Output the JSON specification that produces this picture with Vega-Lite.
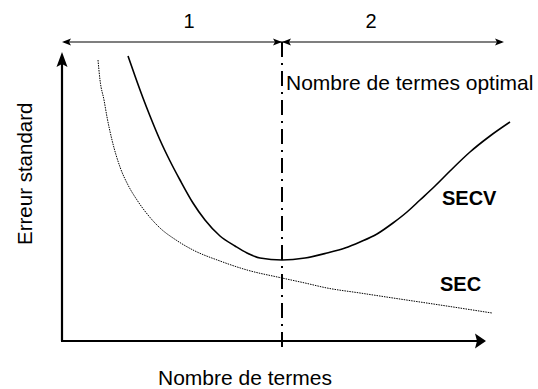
{
  "$schema": "https://vega.github.io/schema/vega-lite/v6.json",
  "width": 538,
  "height": 389,
  "autosize": {"type": "fit", "contains": "padding"},
  "padding": 0,
  "background": "white",
  "view": {"stroke": null},
  "config": {"font": "Liberation Sans"},
  "datasets": {
    "curves": [
      {"serie": "SECV", "termes": 128, "erreur": 333},
      {"serie": "SECV", "termes": 135, "erreur": 313},
      {"serie": "SECV", "termes": 143, "erreur": 291},
      {"serie": "SECV", "termes": 150, "erreur": 273},
      {"serie": "SECV", "termes": 160, "erreur": 249},
      {"serie": "SECV", "termes": 170, "erreur": 228},
      {"serie": "SECV", "termes": 180, "erreur": 209},
      {"serie": "SECV", "termes": 193, "erreur": 186},
      {"serie": "SECV", "termes": 205, "erreur": 169},
      {"serie": "SECV", "termes": 220, "erreur": 153},
      {"serie": "SECV", "termes": 235, "erreur": 143},
      {"serie": "SECV", "termes": 247, "erreur": 136},
      {"serie": "SECV", "termes": 260, "erreur": 131},
      {"serie": "SECV", "termes": 282, "erreur": 129},
      {"serie": "SECV", "termes": 305, "erreur": 131},
      {"serie": "SECV", "termes": 327, "erreur": 136},
      {"serie": "SECV", "termes": 345, "erreur": 141},
      {"serie": "SECV", "termes": 360, "erreur": 147},
      {"serie": "SECV", "termes": 377, "erreur": 155},
      {"serie": "SECV", "termes": 393, "erreur": 166},
      {"serie": "SECV", "termes": 407, "erreur": 177},
      {"serie": "SECV", "termes": 420, "erreur": 189},
      {"serie": "SECV", "termes": 435, "erreur": 203},
      {"serie": "SECV", "termes": 450, "erreur": 218},
      {"serie": "SECV", "termes": 470, "erreur": 237},
      {"serie": "SECV", "termes": 490, "erreur": 253},
      {"serie": "SECV", "termes": 510, "erreur": 267},
      {"serie": "SEC", "termes": 98, "erreur": 329},
      {"serie": "SEC", "termes": 100, "erreur": 309},
      {"serie": "SEC", "termes": 104, "erreur": 289},
      {"serie": "SEC", "termes": 107, "erreur": 272},
      {"serie": "SEC", "termes": 112, "erreur": 249},
      {"serie": "SEC", "termes": 120, "erreur": 222},
      {"serie": "SEC", "termes": 128, "erreur": 204},
      {"serie": "SEC", "termes": 137, "erreur": 189},
      {"serie": "SEC", "termes": 148, "erreur": 174},
      {"serie": "SEC", "termes": 160, "erreur": 161},
      {"serie": "SEC", "termes": 176, "erreur": 149},
      {"serie": "SEC", "termes": 193, "erreur": 139},
      {"serie": "SEC", "termes": 220, "erreur": 128},
      {"serie": "SEC", "termes": 247, "erreur": 119},
      {"serie": "SEC", "termes": 282, "erreur": 111},
      {"serie": "SEC", "termes": 305, "erreur": 106},
      {"serie": "SEC", "termes": 327, "erreur": 101},
      {"serie": "SEC", "termes": 360, "erreur": 96},
      {"serie": "SEC", "termes": 393, "erreur": 91},
      {"serie": "SEC", "termes": 440, "erreur": 84},
      {"serie": "SEC", "termes": 492, "erreur": 76}
    ],
    "axes": [
      {"x": 62, "y": 48, "x2": 62, "y2": 330},
      {"x": 61, "y": 48, "x2": 479, "y2": 48}
    ],
    "span": [
      {"x": 64, "y": 347, "x2": 502, "y2": 347}
    ],
    "optimum": [
      {"x": 282, "y": 347, "x2": 282, "y2": 41}
    ],
    "heads": [
      {"x": 62, "y": 337, "dir": "up"},
      {"x": 486, "y": 48, "dir": "right"},
      {"x": 62, "y": 347, "dir": "left-small"},
      {"x": 282, "y": 347, "dir": "right-small"},
      {"x": 282, "y": 347, "dir": "left-small"},
      {"x": 504, "y": 347, "dir": "right-small"}
    ],
    "zones": [
      {"x": 189, "y": 361, "label": "1"},
      {"x": 371, "y": 361, "label": "2"}
    ],
    "notes": [
      {"x": 286, "y": 299, "label": "Nombre de termes optimal"},
      {"x": 158, "y": 4, "label": "Nombre de termes"}
    ],
    "series": [
      {"x": 442, "y": 184, "label": "SECV"},
      {"x": 440, "y": 98, "label": "SEC"}
    ]
  },
  "encoding": {},
  "layer": [
    {
      "data": {"name": "curves"},
      "transform": [{"filter": "datum.serie === 'SEC'"}],
      "mark": {"type": "line", "interpolate": "monotone", "color": "black", "strokeWidth": 1, "strokeDash": [1.5, 1]},
      "encoding": {
        "x": {"field": "termes", "type": "quantitative", "scale": {"domain": [0, 538], "nice": false, "zero": false}, "axis": null},
        "y": {"field": "erreur", "type": "quantitative", "scale": {"domain": [0, 389], "nice": false, "zero": false}, "axis": null}
      }
    },
    {
      "data": {"name": "curves"},
      "transform": [{"filter": "datum.serie === 'SECV'"}],
      "mark": {"type": "line", "interpolate": "monotone", "color": "black", "strokeWidth": 1.6},
      "encoding": {
        "x": {"field": "termes", "type": "quantitative"},
        "y": {"field": "erreur", "type": "quantitative"}
      }
    },
    {
      "data": {"name": "axes"},
      "mark": {"type": "rule", "color": "black", "strokeWidth": 2.2},
      "encoding": {
        "x": {"field": "x", "type": "quantitative"},
        "y": {"field": "y", "type": "quantitative"},
        "x2": {"field": "x2"},
        "y2": {"field": "y2"}
      }
    },
    {
      "data": {"name": "span"},
      "mark": {"type": "rule", "color": "black", "strokeWidth": 1.2},
      "encoding": {
        "x": {"field": "x", "type": "quantitative"},
        "y": {"field": "y", "type": "quantitative"},
        "x2": {"field": "x2"},
        "y2": {"field": "y2"}
      }
    },
    {
      "data": {"name": "optimum"},
      "mark": {"type": "rule", "color": "black", "strokeWidth": 2, "strokeDash": [15, 6, 2, 6]},
      "encoding": {
        "x": {"field": "x", "type": "quantitative"},
        "y": {"field": "y", "type": "quantitative"},
        "x2": {"field": "x2"},
        "y2": {"field": "y2"}
      }
    },
    {
      "data": {"name": "heads"},
      "mark": {"type": "point", "filled": true, "size": 4, "color": "black", "opacity": 1, "strokeWidth": 0},
      "encoding": {
        "x": {"field": "x", "type": "quantitative"},
        "y": {"field": "y", "type": "quantitative"},
        "shape": {
          "field": "dir",
          "type": "nominal",
          "legend": null,
          "scale": {
            "domain": ["up", "right", "left-small", "right-small"],
            "range": [
              "M0,0 L-5.5,15 L0,12 L5.5,15 Z",
              "M0,0 L-11,-7.5 L-9,0 L-11,7.5 Z",
              "M0,0 L9,-3.5 L7,0 L9,3.5 Z",
              "M0,0 L-9,-3.5 L-7,0 L-9,3.5 Z"
            ]
          }
        }
      }
    },
    {
      "data": {"name": "zones"},
      "mark": {"type": "text", "fontSize": 20, "font": "Liberation Sans", "baseline": "alphabetic", "align": "center", "color": "black"},
      "encoding": {
        "x": {"field": "x", "type": "quantitative"},
        "y": {"field": "y", "type": "quantitative"},
        "text": {"field": "label"}
      }
    },
    {
      "data": {"name": "notes"},
      "mark": {"type": "text", "fontSize": 21, "font": "Liberation Sans", "baseline": "alphabetic", "align": "left", "color": "black"},
      "encoding": {
        "x": {"field": "x", "type": "quantitative"},
        "y": {"field": "y", "type": "quantitative"},
        "text": {"field": "label"}
      }
    },
    {
      "data": {"name": "series"},
      "mark": {"type": "text", "fontSize": 20, "fontWeight": "bold", "font": "Liberation Sans", "baseline": "alphabetic", "align": "left", "color": "black"},
      "encoding": {
        "x": {"field": "x", "type": "quantitative"},
        "y": {"field": "y", "type": "quantitative"},
        "text": {"field": "label"}
      }
    },
    {
      "data": {"values": [{"x": 32, "y": 144, "label": "Erreur standard"}]},
      "mark": {"type": "text", "fontSize": 20.5, "font": "Liberation Sans", "baseline": "alphabetic", "align": "left", "angle": 270, "color": "black"},
      "encoding": {
        "x": {"field": "x", "type": "quantitative"},
        "y": {"field": "y", "type": "quantitative"},
        "text": {"field": "label"}
      }
    }
  ]
}
